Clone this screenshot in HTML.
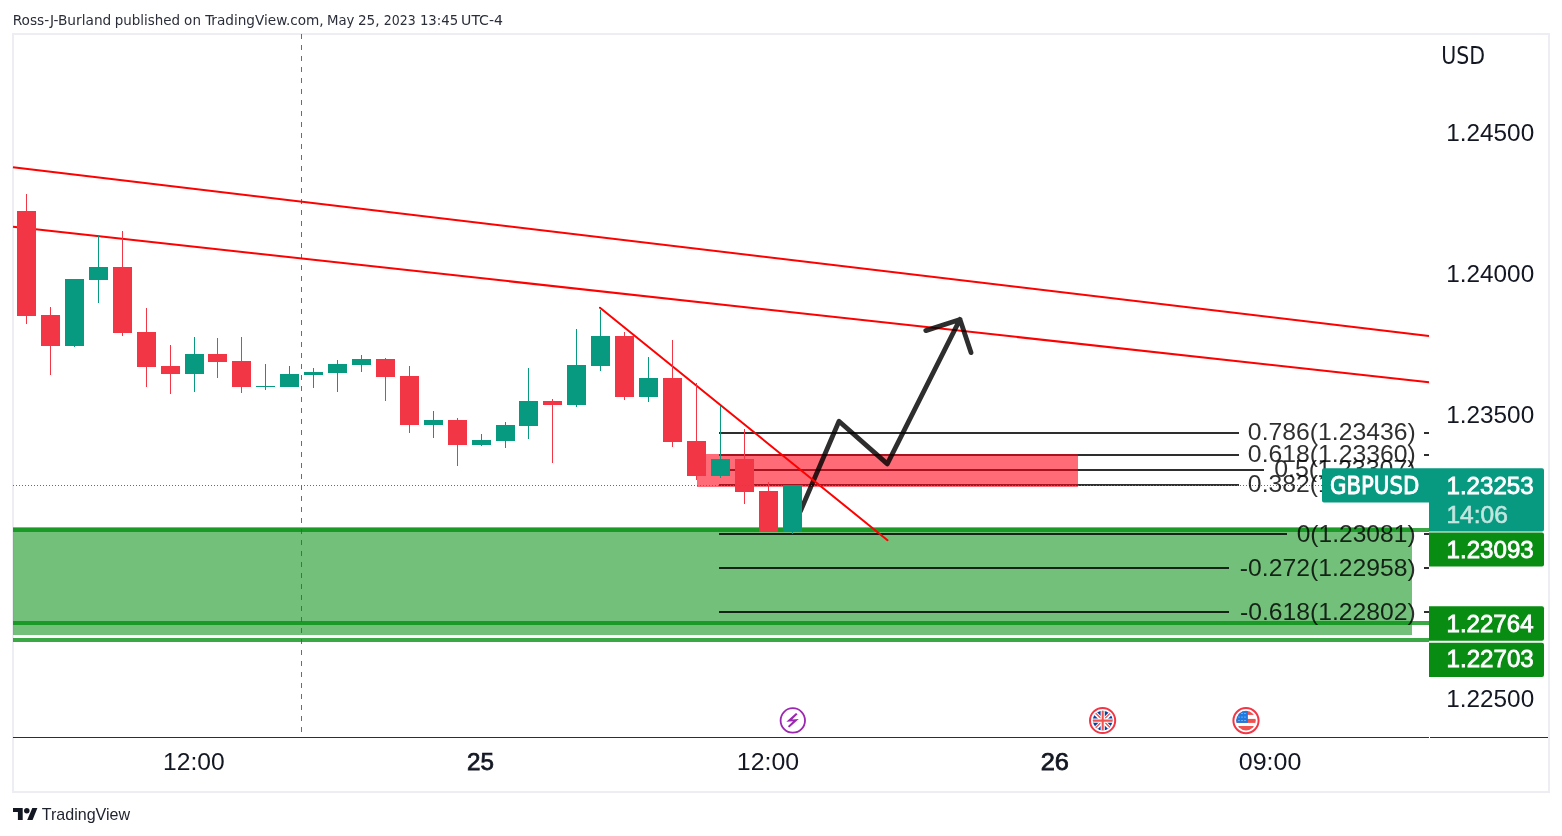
<!DOCTYPE html>
<html><head><meta charset="utf-8"><style>
html,body{margin:0;padding:0;background:#fff;width:1562px;height:836px;overflow:hidden}
svg{position:absolute;left:0;top:0;display:block;will-change:transform}
</style></head><body>
<svg width="1562" height="836" viewBox="0 0 1562 836">
<rect width="1562" height="836" fill="#fff"/>
<text x="12.66" y="24.83" font-size="14.76" font-weight="normal" font-style="normal" fill="#2a2e39" textLength="98.67" lengthAdjust="spacingAndGlyphs" style="font-family:'DejaVu Sans Condensed','DejaVu Sans',sans-serif">Ross-J-Burland</text>
<text x="114.73" y="24.83" font-size="14.76" font-weight="normal" font-style="normal" fill="#2a2e39" textLength="65.44" lengthAdjust="spacingAndGlyphs" style="font-family:'DejaVu Sans Condensed','DejaVu Sans',sans-serif">published</text>
<text x="184.14" y="24.83" font-size="14.76" font-weight="normal" font-style="normal" fill="#2a2e39" textLength="16.81" lengthAdjust="spacingAndGlyphs" style="font-family:'DejaVu Sans Condensed','DejaVu Sans',sans-serif">on</text>
<text x="205.20" y="24.83" font-size="14.76" font-weight="normal" font-style="normal" fill="#2a2e39" textLength="118.48" lengthAdjust="spacingAndGlyphs" style="font-family:'DejaVu Sans Condensed','DejaVu Sans',sans-serif">TradingView.com,</text>
<text x="326.95" y="24.83" font-size="14.76" font-weight="normal" font-style="normal" fill="#2a2e39" textLength="27.49" lengthAdjust="spacingAndGlyphs" style="font-family:'DejaVu Sans Condensed','DejaVu Sans',sans-serif">May</text>
<text x="357.98" y="24.83" font-size="14.76" font-weight="normal" font-style="normal" fill="#2a2e39" textLength="21.62" lengthAdjust="spacingAndGlyphs" style="font-family:'DejaVu Sans Condensed','DejaVu Sans',sans-serif">25,</text>
<text x="383.86" y="24.83" font-size="14.76" font-weight="normal" font-style="normal" fill="#2a2e39" textLength="31.90" lengthAdjust="spacingAndGlyphs" style="font-family:'DejaVu Sans Condensed','DejaVu Sans',sans-serif">2023</text>
<text x="419.90" y="24.83" font-size="14.76" font-weight="normal" font-style="normal" fill="#2a2e39" textLength="38.30" lengthAdjust="spacingAndGlyphs" style="font-family:'DejaVu Sans Condensed','DejaVu Sans',sans-serif">13:45</text>
<text x="461.14" y="24.83" font-size="14.76" font-weight="normal" font-style="normal" fill="#2a2e39" textLength="41.86" lengthAdjust="spacingAndGlyphs" style="font-family:'DejaVu Sans Condensed','DejaVu Sans',sans-serif">UTC-4</text>
<g fill="#eceef3"><rect x="12" y="33" width="1538" height="2"/><rect x="12" y="791" width="1538" height="2"/><rect x="12" y="33" width="2" height="760"/><rect x="1548" y="33" width="2" height="760"/></g>
<line x1="301.5" y1="34" x2="301.5" y2="736" stroke="#3370ee" stroke-width="1" stroke-dasharray="5 6"/>
<rect x="13" y="527" width="1399" height="108" fill="rgba(4,142,17,0.56)"/>
<rect x="13" y="528" width="1416" height="4" fill="rgba(2,143,16,0.78)"/>
<rect x="13" y="621" width="1416" height="4" fill="rgba(2,143,16,0.78)"/>
<rect x="13" y="638" width="1416" height="4" fill="rgba(2,143,16,0.78)"/>
<g shape-rendering="crispEdges">
<rect x="719" y="432" width="520" height="2" fill="rgba(0,0,0,0.82)"/>
<rect x="1424.3" y="432" width="4.7" height="2" fill="rgba(0,0,0,0.82)"/>
<rect x="719" y="454" width="520" height="2" fill="rgba(0,0,0,0.82)"/>
<rect x="1424.3" y="454" width="4.7" height="2" fill="rgba(0,0,0,0.82)"/>
<rect x="719" y="469" width="545" height="2" fill="rgba(0,0,0,0.82)"/>
<rect x="1424.3" y="469" width="4.7" height="2" fill="rgba(0,0,0,0.82)"/>
<rect x="719" y="484" width="520" height="2" fill="rgba(0,0,0,0.82)"/>
<rect x="1424.3" y="484" width="4.7" height="2" fill="rgba(0,0,0,0.82)"/>
<rect x="719" y="533" width="567.5" height="2" fill="rgba(0,0,0,0.82)"/>
<rect x="1424.3" y="533" width="4.7" height="2" fill="rgba(0,0,0,0.82)"/>
<rect x="719" y="567" width="509.9000000000001" height="2" fill="rgba(0,0,0,0.82)"/>
<rect x="1424.3" y="567" width="4.7" height="2" fill="rgba(0,0,0,0.82)"/>
<rect x="719" y="611" width="509.9000000000001" height="2" fill="rgba(0,0,0,0.82)"/>
<rect x="1424.3" y="611" width="4.7" height="2" fill="rgba(0,0,0,0.82)"/>
</g>
<rect x="697" y="454" width="381" height="33" fill="rgba(255,0,20,0.58)"/>
<g stroke="#ff0000" stroke-width="2" fill="none" stroke-linecap="butt">
<line x1="13" y1="167.2" x2="1429" y2="336"/>
<line x1="13" y1="226.8" x2="1429" y2="382.2"/>
</g>
<g stroke="rgba(0,0,0,0.82)" stroke-width="4.8" fill="none" stroke-linecap="round" stroke-linejoin="round">
<path d="M800.5,511 L839,421.3 L887.3,463.9 L960,319.3 M925.8,330.6 L960,319.5 L971,352.6"/>
</g>
<line x1="600" y1="307.7" x2="887.5" y2="540.2" stroke="#ff0000" stroke-width="2" stroke-linecap="round"/>
<g shape-rendering="crispEdges">
<rect x="26" y="194" width="1" height="130" fill="#F23645"/>
<rect x="17" y="211" width="19" height="105" fill="#F23645"/>
<rect x="50" y="307" width="1" height="68" fill="#F23645"/>
<rect x="41" y="315" width="19" height="31" fill="#F23645"/>
<rect x="74" y="279" width="1" height="68" fill="#089981"/>
<rect x="65" y="279" width="19" height="67" fill="#089981"/>
<rect x="98" y="236" width="1" height="67" fill="#089981"/>
<rect x="89" y="267" width="19" height="13" fill="#089981"/>
<rect x="122" y="231" width="1" height="105" fill="#F23645"/>
<rect x="113" y="267" width="19" height="66" fill="#F23645"/>
<rect x="146" y="308" width="1" height="79" fill="#F23645"/>
<rect x="137" y="332" width="19" height="35" fill="#F23645"/>
<rect x="170" y="345" width="1" height="49" fill="#F23645"/>
<rect x="161" y="366" width="19" height="8" fill="#F23645"/>
<rect x="194" y="337" width="1" height="55" fill="#089981"/>
<rect x="185" y="354" width="19" height="20" fill="#089981"/>
<rect x="217" y="338" width="1" height="40" fill="#F23645"/>
<rect x="208" y="354" width="19" height="8" fill="#F23645"/>
<rect x="241" y="337" width="1" height="56" fill="#F23645"/>
<rect x="232" y="361" width="19" height="26" fill="#F23645"/>
<rect x="265" y="364" width="1" height="26" fill="#089981"/>
<rect x="256" y="386" width="19" height="1" fill="#089981"/>
<rect x="289" y="366" width="1" height="21" fill="#089981"/>
<rect x="280" y="374" width="19" height="13" fill="#089981"/>
<rect x="313" y="368" width="1" height="20" fill="#089981"/>
<rect x="304" y="372" width="19" height="3" fill="#089981"/>
<rect x="337" y="360" width="1" height="32" fill="#089981"/>
<rect x="328" y="364" width="19" height="9" fill="#089981"/>
<rect x="361" y="355" width="1" height="17" fill="#089981"/>
<rect x="352" y="359" width="19" height="6" fill="#089981"/>
<rect x="385" y="358" width="1" height="43" fill="#F23645"/>
<rect x="376" y="359" width="19" height="18" fill="#F23645"/>
<rect x="409" y="366" width="1" height="67" fill="#F23645"/>
<rect x="400" y="376" width="19" height="49" fill="#F23645"/>
<rect x="433" y="411" width="1" height="27" fill="#089981"/>
<rect x="424" y="420" width="19" height="5" fill="#089981"/>
<rect x="457" y="418" width="1" height="48" fill="#F23645"/>
<rect x="448" y="420" width="19" height="25" fill="#F23645"/>
<rect x="481" y="434" width="1" height="12" fill="#089981"/>
<rect x="472" y="440" width="19" height="5" fill="#089981"/>
<rect x="505" y="422" width="1" height="26" fill="#089981"/>
<rect x="496" y="425" width="19" height="16" fill="#089981"/>
<rect x="528" y="368" width="1" height="71" fill="#089981"/>
<rect x="519" y="401" width="19" height="25" fill="#089981"/>
<rect x="552" y="399" width="1" height="64" fill="#F23645"/>
<rect x="543" y="401" width="19" height="4" fill="#F23645"/>
<rect x="576" y="329" width="1" height="78" fill="#089981"/>
<rect x="567" y="365" width="19" height="40" fill="#089981"/>
<rect x="600" y="310" width="1" height="61" fill="#089981"/>
<rect x="591" y="336" width="19" height="30" fill="#089981"/>
<rect x="624" y="332" width="1" height="68" fill="#F23645"/>
<rect x="615" y="336" width="19" height="61" fill="#F23645"/>
<rect x="648" y="357" width="1" height="45" fill="#089981"/>
<rect x="639" y="378" width="19" height="19" fill="#089981"/>
<rect x="672" y="340" width="1" height="107" fill="#F23645"/>
<rect x="663" y="378" width="19" height="64" fill="#F23645"/>
<rect x="696" y="383" width="1" height="97" fill="#F23645"/>
<rect x="687" y="441" width="19" height="35" fill="#F23645"/>
<rect x="720" y="406" width="1" height="72" fill="#089981"/>
<rect x="711" y="459" width="19" height="17" fill="#089981"/>
<rect x="744" y="429" width="1" height="75" fill="#F23645"/>
<rect x="735" y="459" width="19" height="33" fill="#F23645"/>
<rect x="768" y="482" width="1" height="50" fill="#F23645"/>
<rect x="759" y="491" width="19" height="41" fill="#F23645"/>
<rect x="792" y="485" width="1" height="49" fill="#089981"/>
<rect x="783" y="485" width="19" height="47" fill="#089981"/>
</g>
<line x1="13" y1="485.5" x2="1322" y2="485.5" stroke="#089981" stroke-width="1" stroke-dasharray="1 2"/>
<text x="1247.87" y="440.4" font-size="24" font-weight="normal" font-style="normal" fill="rgba(0,0,0,0.82)" textLength="167.93" lengthAdjust="spacingAndGlyphs" style="font-family:'Liberation Sans',Arial,sans-serif">0.786(1.23436)</text>
<text x="1247.87" y="462.4" font-size="24" font-weight="normal" font-style="normal" fill="rgba(0,0,0,0.82)" textLength="167.93" lengthAdjust="spacingAndGlyphs" style="font-family:'Liberation Sans',Arial,sans-serif">0.618(1.23360)</text>
<text x="1274.16" y="476.8" font-size="24" font-weight="normal" font-style="normal" fill="rgba(0,0,0,0.82)" textLength="141.45" lengthAdjust="spacingAndGlyphs" style="font-family:'Liberation Sans',Arial,sans-serif">0.5(1.23307)</text>
<text x="1247.87" y="492.4" font-size="24" font-weight="normal" font-style="normal" fill="rgba(0,0,0,0.82)" textLength="167.93" lengthAdjust="spacingAndGlyphs" style="font-family:'Liberation Sans',Arial,sans-serif">0.382(1.23254)</text>
<text x="1296.68" y="541.7" font-size="24" font-weight="normal" font-style="normal" fill="rgba(0,0,0,0.82)" textLength="118.90" lengthAdjust="spacingAndGlyphs" style="font-family:'Liberation Sans',Arial,sans-serif">0(1.23081)</text>
<text x="1239.77" y="576.0" font-size="24" font-weight="normal" font-style="normal" fill="rgba(0,0,0,0.82)" textLength="176.02" lengthAdjust="spacingAndGlyphs" style="font-family:'Liberation Sans',Arial,sans-serif">-0.272(1.22958)</text>
<text x="1239.97" y="620.4" font-size="24" font-weight="normal" font-style="normal" fill="rgba(0,0,0,0.82)" textLength="175.82" lengthAdjust="spacingAndGlyphs" style="font-family:'Liberation Sans',Arial,sans-serif">-0.618(1.22802)</text>
<text x="1441.24" y="64.2" font-size="24" font-weight="normal" font-style="normal" fill="#131722" textLength="43.90" lengthAdjust="spacingAndGlyphs" style="font-family:'DejaVu Sans Condensed','DejaVu Sans',sans-serif">USD</text>
<text x="1446.23" y="140.7" font-size="24" font-weight="normal" font-style="normal" fill="#131722" textLength="87.95" lengthAdjust="spacingAndGlyphs" style="font-family:'Liberation Sans',Arial,sans-serif">1.24500</text>
<text x="1446.23" y="282.0" font-size="24" font-weight="normal" font-style="normal" fill="#131722" textLength="87.95" lengthAdjust="spacingAndGlyphs" style="font-family:'Liberation Sans',Arial,sans-serif">1.24000</text>
<text x="1446.23" y="423.4" font-size="24" font-weight="normal" font-style="normal" fill="#131722" textLength="87.95" lengthAdjust="spacingAndGlyphs" style="font-family:'Liberation Sans',Arial,sans-serif">1.23500</text>
<text x="1446.23" y="706.6" font-size="24" font-weight="normal" font-style="normal" fill="#131722" textLength="87.95" lengthAdjust="spacingAndGlyphs" style="font-family:'Liberation Sans',Arial,sans-serif">1.22500</text>
<path d="M1324,468.3 H1542 a2,2 0 0 1 2,2 V529.5 a2,2 0 0 1 -2,2 H1429 V502.6 H1324 a2,2 0 0 1 -2,-2 V470.3 a2,2 0 0 1 2,-2 Z" fill="#089981"/>
<text x="1329.97" y="493.8" font-size="24" font-weight="normal" font-style="normal" fill="#fff" stroke="#fff" stroke-width="0.8" textLength="89.33" lengthAdjust="spacingAndGlyphs" style="font-family:'DejaVu Sans Condensed','DejaVu Sans',sans-serif">GBPUSD</text>
<text x="1446.54" y="494" font-size="24" font-weight="normal" font-style="normal" fill="#fff" stroke="#fff" stroke-width="0.8" textLength="87.08" lengthAdjust="spacingAndGlyphs" style="font-family:'Liberation Sans',Arial,sans-serif">1.23253</text>
<text x="1446.41" y="522.8" font-size="24" font-weight="normal" font-style="normal" fill="#c2e6e0" stroke="#c2e6e0" stroke-width="0.6" textLength="61.37" lengthAdjust="spacingAndGlyphs" style="font-family:'Liberation Sans',Arial,sans-serif">14:06</text>
<g fill="#098c12">
<path d="M1429,532.4 H1542 a2,2 0 0 1 2,2 V564.6 a2,2 0 0 1 -2,2 H1429 Z"/>
<path d="M1429,606.2 H1542 a2,2 0 0 1 2,2 V638.8 a2,2 0 0 1 -2,2 H1429 Z"/>
<path d="M1429,642.7 H1542 a2,2 0 0 1 2,2 V674.9 a2,2 0 0 1 -2,2 H1429 Z"/>
</g>
<text x="1446.54" y="558" font-size="24" font-weight="normal" font-style="normal" fill="#fff" stroke="#fff" stroke-width="0.8" textLength="87.23" lengthAdjust="spacingAndGlyphs" style="font-family:'Liberation Sans',Arial,sans-serif">1.23093</text>
<text x="1446.55" y="631.8" font-size="24" font-weight="normal" font-style="normal" fill="#fff" stroke="#fff" stroke-width="0.8" textLength="86.97" lengthAdjust="spacingAndGlyphs" style="font-family:'Liberation Sans',Arial,sans-serif">1.22764</text>
<text x="1446.54" y="667.4" font-size="24" font-weight="normal" font-style="normal" fill="#fff" stroke="#fff" stroke-width="0.8" textLength="87.23" lengthAdjust="spacingAndGlyphs" style="font-family:'Liberation Sans',Arial,sans-serif">1.22703</text>
<rect x="13" y="737" width="1416" height="1" fill="#2a2e39"/>
<rect x="1430" y="737" width="118" height="1" fill="#2a2e39"/>
<text x="163.10" y="770" font-size="24" font-weight="normal" font-style="normal" fill="#131722" textLength="61.64" lengthAdjust="spacingAndGlyphs" style="font-family:'Liberation Sans',Arial,sans-serif">12:00</text>
<text x="467.04" y="769.8" font-size="24" font-weight="normal" font-style="normal" fill="#131722" stroke="#131722" stroke-width="0.75" textLength="26.92" lengthAdjust="spacingAndGlyphs" style="font-family:'Liberation Sans',Arial,sans-serif">25</text>
<text x="736.88" y="770" font-size="24" font-weight="normal" font-style="normal" fill="#131722" textLength="62.32" lengthAdjust="spacingAndGlyphs" style="font-family:'Liberation Sans',Arial,sans-serif">12:00</text>
<text x="1040.68" y="769.8" font-size="24" font-weight="normal" font-style="normal" fill="#131722" stroke="#131722" stroke-width="0.75" textLength="28.23" lengthAdjust="spacingAndGlyphs" style="font-family:'Liberation Sans',Arial,sans-serif">26</text>
<text x="1238.76" y="770" font-size="24" font-weight="normal" font-style="normal" fill="#131722" textLength="62.55" lengthAdjust="spacingAndGlyphs" style="font-family:'Liberation Sans',Arial,sans-serif">09:00</text>
<g>
<circle cx="792.8" cy="720.4" r="12.2" fill="#fff" stroke="#9c27b0" stroke-width="1.8"/>
<path d="M796.0,713.1 L797.6,714.3 L792.2,719.4 L798.8,719.0 L789.3,727.4 L787.9,726.3 L793.0,721.3 L786.3,721.8 Z" fill="#9c27b0"/>
</g>
<g>
<circle cx="1102.6" cy="720.5" r="12.6" fill="#fff" stroke="#f23645" stroke-width="2"/>
<clipPath id="ukc"><circle cx="1102.7" cy="720.5" r="9.8"/></clipPath>
<g clip-path="url(#ukc)">
<rect x="1092" y="710" width="22" height="22" fill="#0b3f9e"/>
<path d="M1092,710 L1114,732 M1114,710 L1092,732" stroke="#fff" stroke-width="4"/>
<path d="M1092.6,710 L1114.6,732 M1113.4,710 L1091.4,732" stroke="#ef5350" stroke-width="1.3"/>
<path d="M1102.7,710 V732 M1092,720.6 H1114" stroke="#fff" stroke-width="4.2"/>
<path d="M1102.7,710 V732 M1092,720.6 H1114" stroke="#ef5350" stroke-width="2.1"/>
</g>
</g>
<g>
<circle cx="1246" cy="720.6" r="12.6" fill="#fff" stroke="#f23645" stroke-width="2"/>
<clipPath id="usc"><circle cx="1246" cy="720.6" r="9.8"/></clipPath>
<g clip-path="url(#usc)">
<rect x="1236" y="710" width="21" height="22" fill="#fff"/>
<rect x="1236" y="710.9" width="21" height="4" fill="#ef5350"/>
<rect x="1236" y="718.9" width="21" height="4" fill="#ef5350"/>
<rect x="1236" y="726" width="21" height="6" fill="#ef5350"/>
<rect x="1236" y="710" width="11.9" height="12.9" fill="#1e7ae0"/>
<g fill="#fff" opacity="0.8">
<circle cx="1239" cy="717" r="0.6"/><circle cx="1242" cy="717" r="0.6"/><circle cx="1245" cy="717" r="0.6"/>
<circle cx="1242" cy="713.5" r="0.6"/><circle cx="1245" cy="713.5" r="0.6"/>
<circle cx="1239" cy="720.5" r="0.6"/><circle cx="1242" cy="720.5" r="0.6"/><circle cx="1245" cy="720.5" r="0.6"/>
</g>
</g>
</g>
<g fill="#131722">
<path d="M13,808 H22.7 V820 H17.9 V812 H13 Z"/>
<circle cx="26.8" cy="810.7" r="2.75"/>
<path d="M32.3,808 H37.4 L32.6,820 H27.2 Z"/>
</g>
<text x="41.74" y="820" font-size="15.7" font-weight="normal" font-style="normal" fill="#1e222d" textLength="88.34" lengthAdjust="spacingAndGlyphs" style="font-family:'Liberation Sans',Arial,sans-serif">TradingView</text>
</svg>
</body></html>
